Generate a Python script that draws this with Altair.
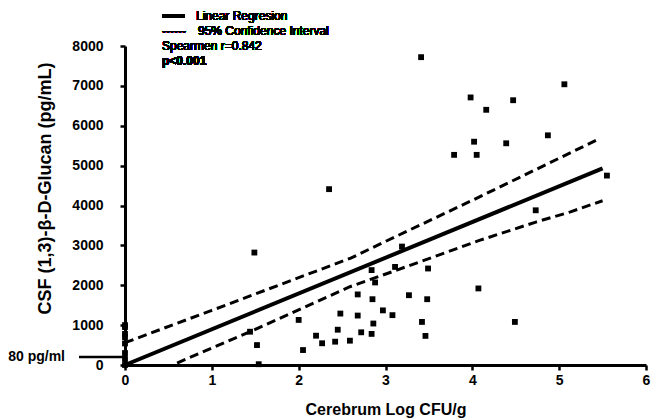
import altair as alt
import pandas as pd

# Scatter data (Cerebrum Log CFU/g vs CSF beta-glucan pg/mL)
pts_x = [0, 0, 0, 0, 0, 0, 0, 0,
         1.44, 1.49, 1.52, 1.54,
         2.00, 2.05, 2.20, 2.27, 2.35, 2.42, 2.45, 2.48, 2.59, 2.68, 2.68, 2.72,
         2.84, 2.84, 2.85, 2.86, 2.88, 2.97, 3.08, 3.11, 3.19, 3.27,
         3.41, 3.42, 3.46, 3.48, 3.49, 3.79, 3.98, 4.02, 4.05, 4.07, 4.16,
         4.39, 4.47, 4.49, 4.73, 4.87, 5.06, 5.55]
pts_y = [1000, 950, 780, 700, 540, 300, 150, 0,
         835, 2820, 500, 20,
         1130, 375, 735, 545, 4410, 585, 885, 1290, 610, 1770, 1240, 820,
         2380, 780, 1650, 1040, 2070, 1370, 1250, 2460, 2970, 1750,
         7720, 1080, 730, 1650, 2420, 5270, 6710, 5600, 5270, 1920, 6400,
         5560, 6640, 1080, 3880, 5760, 7040, 4750]

# Regression line and 95% confidence bands
reg_x = [0, 5.5]
reg_y = [0, 4930]
upper_x = [0, 1, 2, 2.6, 3, 4, 5.45]
upper_y = [560, 1370, 2190, 2680, 3100, 4130, 5660]
lower_x = [0.6, 1.44, 2.59, 3.13, 4.09, 4.74, 5.13, 5.5]
lower_y = [50, 835, 1963, 2380, 3130, 3590, 3840, 4120]

x_ticks = [0, 1, 2, 3, 4, 5, 6]
y_ticks = [0, 1000, 2000, 3000, 4000, 5000, 6000, 7000, 8000]

cutoff_label = "80 pg/ml"
cutoff_y = [200]

legend_lines = ["Linear Regresion", "95% Confidence Interval"]
stat_r = "Spearmen r=0.842"
stat_p = "p<0.001"

FONT = "Liberation Sans"

pts = pd.DataFrame({"x": pts_x, "y": pts_y})
reg = pd.DataFrame({"x": reg_x, "y": reg_y})
up = pd.DataFrame({"x": upper_x, "y": upper_y})
lo = pd.DataFrame({"x": lower_x, "y": lower_y})
cut = pd.DataFrame({"y": cutoff_y, "label": [cutoff_label]})

xscale = alt.Scale(domain=[0, 6], nice=False, zero=False)
yscale = alt.Scale(domain=[0, 8000], nice=False)

xaxis = alt.Axis(values=x_ticks, format="d", title="Cerebrum Log CFU/g",
                 labelOverlap=False, labelFlush=False, labelPadding=3,
                 titleY=49, titleBaseline="alphabetic")
yaxis = alt.Axis(values=y_ticks, format="d",
                 labelOverlap=False, labelFlush=False, labelPadding=17,
                 title="CSF (1,3)-β-D-Glucan (pg/mL)", titleFontSize=18,
                 titleX=-80, titleY=142, titleBaseline="middle",
                 titleAngle=-90, titleAlign="center")


def X():
    return alt.X("x:Q", scale=xscale, axis=xaxis)


def Y():
    return alt.Y("y:Q", scale=yscale, axis=yaxis)


scatter = alt.Chart(pts).mark_square(size=34, color="black", opacity=1).encode(x=X(), y=Y())

reg_line = alt.Chart(reg).mark_line(color="black", strokeWidth=4).encode(x=X(), y=Y())
up_line = alt.Chart(up).mark_line(color="black", strokeWidth=3, strokeDash=[9, 5]).encode(x=X(), y=Y())
lo_line = alt.Chart(lo).mark_line(color="black", strokeWidth=3, strokeDash=[9, 5]).encode(x=X(), y=Y())

cut_rule = alt.Chart(cut).mark_rule(color="black", strokeWidth=2.5).encode(
    x=alt.value(-46), x2=alt.value(0), y=Y())
cut_text = alt.Chart(cut).mark_text(align="right", baseline="middle", font=FONT,
                                    fontSize=14, fontWeight="bold", color="black").encode(
    x=alt.value(-60), y=Y(), text="label:N")

TXT = dict(align="left", baseline="middle", font=FONT, fontSize=12, color="black")
leg_solid = alt.Chart(pts).mark_rule(color="black", strokeWidth=3).encode(
    x=alt.value(37), x2=alt.value(60), y=alt.value(-30))
leg_t1 = alt.Chart(pts).mark_text(**TXT).encode(
    x=alt.value(71), y=alt.value(-30), text=alt.value(legend_lines[0]))
leg_dash = alt.Chart(pts).mark_text(**TXT).encode(
    x=alt.value(37), y=alt.value(-15), text=alt.value("------"))
leg_t2 = alt.Chart(pts).mark_text(**TXT).encode(
    x=alt.value(73), y=alt.value(-15), text=alt.value(legend_lines[1]))
leg_r = alt.Chart(pts).mark_text(**TXT).encode(
    x=alt.value(37), y=alt.value(0), text=alt.value(stat_r))
leg_p = alt.Chart(pts).mark_text(fontWeight="bold", **TXT).encode(
    x=alt.value(37), y=alt.value(15), text=alt.value(stat_p))

chart = alt.layer(
    scatter, reg_line, up_line, lo_line, cut_rule, cut_text,
    leg_solid, leg_t1, leg_dash, leg_t2, leg_r, leg_p
).properties(
    width=521, height=319,
    autosize=alt.AutoSizeParams(type="none"),
    padding={"left": 125, "top": 46, "right": 7, "bottom": 54},
    background="white",
).configure_view(stroke=None).configure_axis(
    grid=False,
    domainColor="black", domainWidth=3,
    tickColor="black", tickWidth=2.5, tickSize=5,
    labelFont=FONT, labelFontSize=14, labelFontWeight="bold", labelColor="black",
    titleFont=FONT, titleFontSize=16, titleFontWeight="bold", titleColor="black",
)

chart.save("out.html", embed_options={"renderer": "svg", "actions": False})
